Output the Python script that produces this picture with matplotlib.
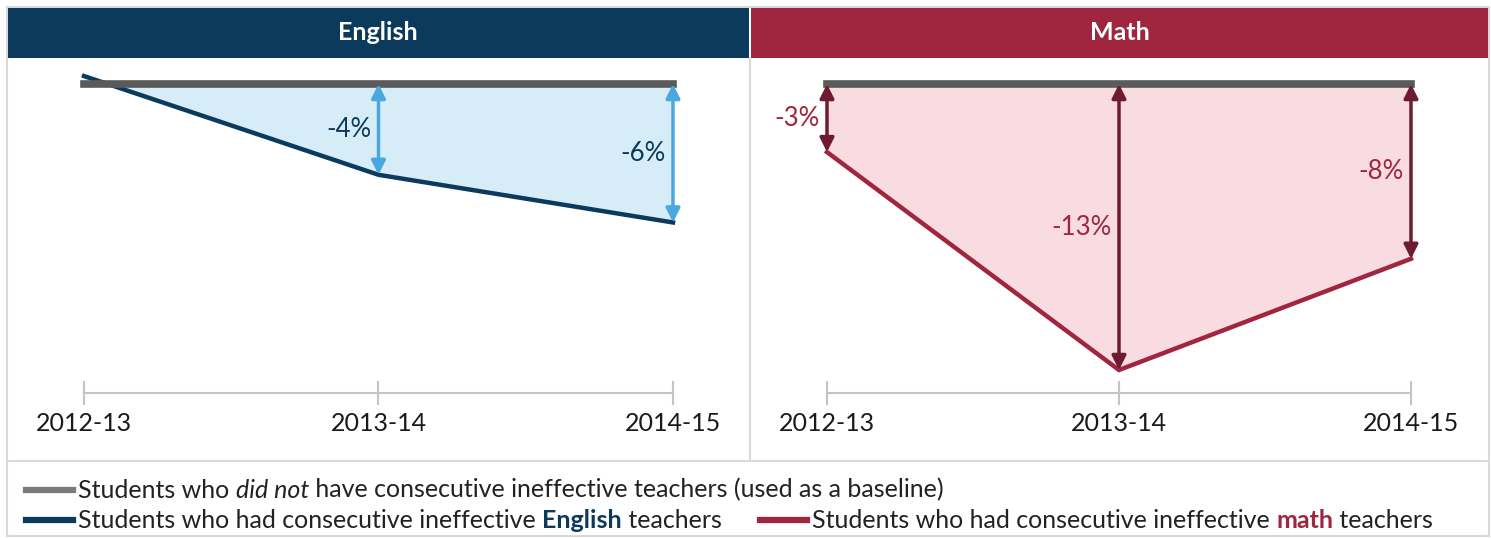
import matplotlib
matplotlib.use("Agg")
import matplotlib.pyplot as plt
from matplotlib.patches import Rectangle
from matplotlib.lines import Line2D

plt.rcParams['font.family'] = ['Lato', 'DejaVu Sans']

# data
years = ['2012-13', '2013-14', '2014-15']
english = [0.35, -4.0, -6.1]
math_vals = [-3.0, -12.6, -7.7]
baseline = [0, 0, 0]
english_labels = [None, '-4%', '-6%']
math_labels = ['-3%', '-13%', '-8%']

W, H = 1491, 538
fig = plt.figure(figsize=(W / 100, H / 100), dpi=100)

def fx(px):
    return px / W

def fy(py):
    return 1 - py / H

NAVY = '#0b3a5c'
CRIMSON = '#a0263f'
GREY = '#5a5a5a'
BORDER = '#d9d9d9'

# frame and headers
fig.patches.append(Rectangle((fx(7), fy(536)), fx(1482), fy(7) - fy(536), transform=fig.transFigure,
                             facecolor='none', edgecolor=BORDER, lw=1.5, zorder=0))
fig.patches.append(Rectangle((fx(8), fy(58)), fx(741), fy(8) - fy(58), transform=fig.transFigure,
                             facecolor=NAVY, edgecolor='none', zorder=1))
fig.patches.append(Rectangle((fx(751), fy(58)), fx(737), fy(8) - fy(58), transform=fig.transFigure,
                             facecolor=CRIMSON, edgecolor='none', zorder=1))
fig.text(fx(378), fy(32), 'English', color='white', fontsize=18, fontweight='bold', ha='center', va='center')
fig.text(fx(1120), fy(32), 'Math', color='white', fontsize=18, fontweight='bold', ha='center', va='center')
fig.lines.append(Line2D([fx(7), fx(1489)], [fy(461), fy(461)], transform=fig.transFigure, color=BORDER, lw=1.5))
fig.lines.append(Line2D([fx(750), fx(750)], [fy(58), fy(461)], transform=fig.transFigure, color=BORDER, lw=1.5))

S = 22.7  # pixels per percentage point
y_top = (84 - 58) / S
y_bot = -(460 - 84) / S
y_axis = -(393 - 84) / S


def panel(x0, x1, t0, t2, vals, labels, line_c, fill_c, arrow_c, label_c, arrow_from):
    unit = (t2 - t0) / 2
    ax = fig.add_axes([fx(x0), fy(460), fx(x1 - x0), fy(58) - fy(460)])
    ax.set_xlim((x0 - t0) / unit, (x1 - t0) / unit)
    ax.set_ylim(y_bot, y_top)
    ax.patch.set_alpha(0)
    x = list(range(len(years)))
    ax.fill_between(x, baseline, vals, color=fill_c, lw=0, zorder=1)
    ax.plot(x, vals, color=line_c, lw=3.2, zorder=3, solid_joinstyle='miter')
    ax.plot(x, baseline, color=GREY, lw=5.5, zorder=4, solid_capstyle='projecting')
    for i in range(arrow_from, len(x)):
        ax.annotate('', xy=(x[i], vals[i]), xytext=(x[i], 0),
                    arrowprops=dict(arrowstyle='<|-|>', color=arrow_c, lw=2.5,
                                    mutation_scale=21, shrinkA=0, shrinkB=0), zorder=5)
        if labels[i]:
            ax.text(x[i] - 0.025, vals[i] / 2, labels[i], color=label_c, fontsize=18.5,
                    ha='right', va='center', zorder=6)
    for s in ['top', 'right', 'left']:
        ax.spines[s].set_visible(False)
    ax.spines['bottom'].set_position(('data', y_axis))
    ax.spines['bottom'].set_bounds(0, 2)
    ax.spines['bottom'].set_color('#c4c4c4')
    ax.spines['bottom'].set_linewidth(1.5)
    ax.set_yticks([])
    ax.set_xticks(x)
    ax.set_xticklabels(years, fontsize=18, color='#1a1a1a')
    ax.tick_params(axis='x', direction='inout', length=17, width=1.5, color='#c4c4c4', pad=5)
    return ax


panel(8, 749, 84, 673, english, english_labels, NAVY, '#d6edf8', '#4aa8df', NAVY, 1)
panel(751, 1488, 827, 1411, math_vals, math_labels, CRIMSON, '#f8dce1', '#6e1a30', CRIMSON, 0)

# legend
fig.canvas.draw()
renderer = fig.canvas.get_renderer()


def legend_row(px, py, color, pieces):
    fig.lines.append(Line2D([fx(px), fx(px + 47)], [fy(py), fy(py)], transform=fig.transFigure,
                            color=color, lw=4.5))
    cur = px + 52
    for txt, kw in pieces:
        t = fig.text(fx(cur), fy(py), txt, fontsize=18, va='center', ha='left',
                     **({'color': '#222222'} | kw))
        bb = t.get_window_extent(renderer)
        cur += bb.width


legend_row(26, 490, '#7a7a7a', [('Students who ', {}), ('did not', {'style': 'italic'}),
                                 (' have consecutive ineffective teachers (used as a baseline)', {})])
legend_row(26, 520, NAVY, [('Students who had consecutive ineffective ', {}),
                           ('English', {'fontweight': 'bold', 'color': NAVY}), (' teachers', {})])
legend_row(760, 520, CRIMSON, [('Students who had consecutive ineffective ', {}),
                               ('math', {'fontweight': 'bold', 'color': CRIMSON}), (' teachers', {})])

fig.savefig('out.png', dpi=100)
